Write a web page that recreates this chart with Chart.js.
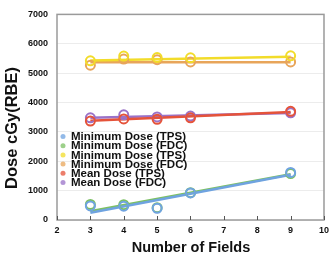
<!DOCTYPE html>
<html><head><meta charset="utf-8">
<script src="https://cdn.jsdelivr.net/npm/chart.js@4/dist/chart.umd.min.js"></script>
<style>html,body{margin:0;padding:0;background:#fff}#w{width:334px;height:257px}</style>
</head><body><div id="w"><canvas id="c"></canvas></div>
<script>
const fields = [3, 4, 5, 6, 9];
const labels = ["Minimum Dose (TPS)","Minimum Dose (FDC)","Minimum Dose (TPS)","Minimum Dose (FDC)","Mean Dose (TPS)","Mean Dose (FDC)"];
const colors = ["#6fa3e0","#7cc063","#f2dc2a","#e8a55a","#e5533a","#9a72c8"];
const minTPS = [480, 470, 400, 920, 1620];
const minFDC = [530, 520, 420, 930, 1580];
const hiTPS = [5420, 5580, 5530, 5520, 5590];
const hiFDC = [5270, 5480, 5460, 5380, 5380];
const meanTPS = [3370, 3440, 3430, 3480, 3700];
const meanFDC = [3480, 3580, 3510, 3540, 3650];
const trendX = [3, 9];
const trendMinTPS = [250, 1540];
const trendMinFDC = [300, 1560];
const trendHiTPS = [5430, 5560];
const trendHiFDC = [5370, 5370];
const trendMeanTPS = [3380, 3680];
const trendMeanFDC = [3480, 3640];
const yTicks = [0,1000,2000,3000,4000,5000,6000,7000];
const yTitle = 'Dose cGy(RBE)';
const xTitle = 'Number of Fields';

const series = [minTPS, minFDC, hiTPS, hiFDC, meanTPS, meanFDC];
const trends = [trendMinTPS, trendMinFDC, trendHiTPS, trendHiFDC, trendMeanTPS, trendMeanFDC];
const datasets = [];
trends.forEach((t,i)=>{
  datasets.push({type:'line', label:'trend'+i, data:t.map((v,j)=>({x:trendX[j],y:v})),
    borderColor:colors[i], borderWidth:2.5, pointRadius:0, showLine:true, fill:false, order:2});
});
series.forEach((s,i)=>{
  datasets.push({type:'scatter', label:labels[i], data:s.map((v,j)=>({x:fields[j],y:v})),
    borderColor:colors[i], backgroundColor:'rgba(0,0,0,0)', borderWidth:2, pointRadius:4.5, pointStyle:'circle', order:1});
});

const FONT = '"Liberation Sans", Arial, sans-serif';
const frame = {
  id:'frame',
  afterDraw(chart){
    const {ctx, chartArea:a, scales:{x}} = chart;
    ctx.save();
    ctx.strokeStyle='#9a9a9a'; ctx.lineWidth=1.5;
    ctx.strokeRect(a.left, a.top, a.right-a.left, a.bottom-a.top);
    ctx.strokeStyle='#555'; ctx.lineWidth=1;
    for(let v=2; v<=10; v++){
      const px = Math.round(x.getPixelForValue(v))+0.5;
      ctx.beginPath(); ctx.moveTo(px, a.bottom); ctx.lineTo(px, a.bottom-4); ctx.stroke();
    }
    // legend
    ctx.font='bold 11.5px ' + FONT;
    ctx.textBaseline='middle';
    const lx = 63, ly0 = 136.5, dy = 9.2;
    labels.forEach((l,i)=>{
      const y = ly0 + i*dy;
      ctx.fillStyle=colors[i]; ctx.globalAlpha=0.75;
      ctx.beginPath(); ctx.arc(lx, y, 2.5, 0, Math.PI*2); ctx.fill();
      ctx.globalAlpha=1;
      ctx.fillStyle='#111';
      ctx.fillText(l, 71, y+0.5);
    });
    // axis titles
    ctx.fillStyle='#111';
    ctx.textAlign='center'; ctx.textBaseline='alphabetic';
    ctx.font='bold 14.5px ' + FONT;
    ctx.fillText(xTitle, 191, 252);
    ctx.translate(17, 128); ctx.rotate(-Math.PI/2);
    ctx.font='bold 16.5px ' + FONT;
    ctx.fillText(yTitle, 0, 0);
    ctx.restore();
  }
};

new Chart(document.getElementById('c'), {
  data:{datasets},
  options:{
    responsive:true, maintainAspectRatio:false, animation:false,
    layout:{padding:{top:10,right:9,left:0,bottom:0}},
    plugins:{legend:{display:false}, tooltip:{enabled:false}},
    scales:{
      x:{type:'linear', min:2, max:10,
        afterFit(s){ s.height = 37; },
        ticks:{stepSize:1, color:'#111', font:{family:FONT, weight:'bold', size:9}, padding:5},
        grid:{display:false, drawTicks:false}, border:{display:false}
      },
      y:{type:'linear', min:0, max:7000,
        afterFit(s){ s.width = 57; },
        afterBuildTicks(s){ s.ticks = yTicks.map(v=>({value:v})); },
        ticks:{color:'#111', font:{family:FONT, weight:'bold', size:9}, padding:9, callback:v=>String(v)},
        grid:{color:'#ececec', drawTicks:false}, border:{display:false}
      }
    }
  },
  plugins:[frame]
});
</script></body></html>
